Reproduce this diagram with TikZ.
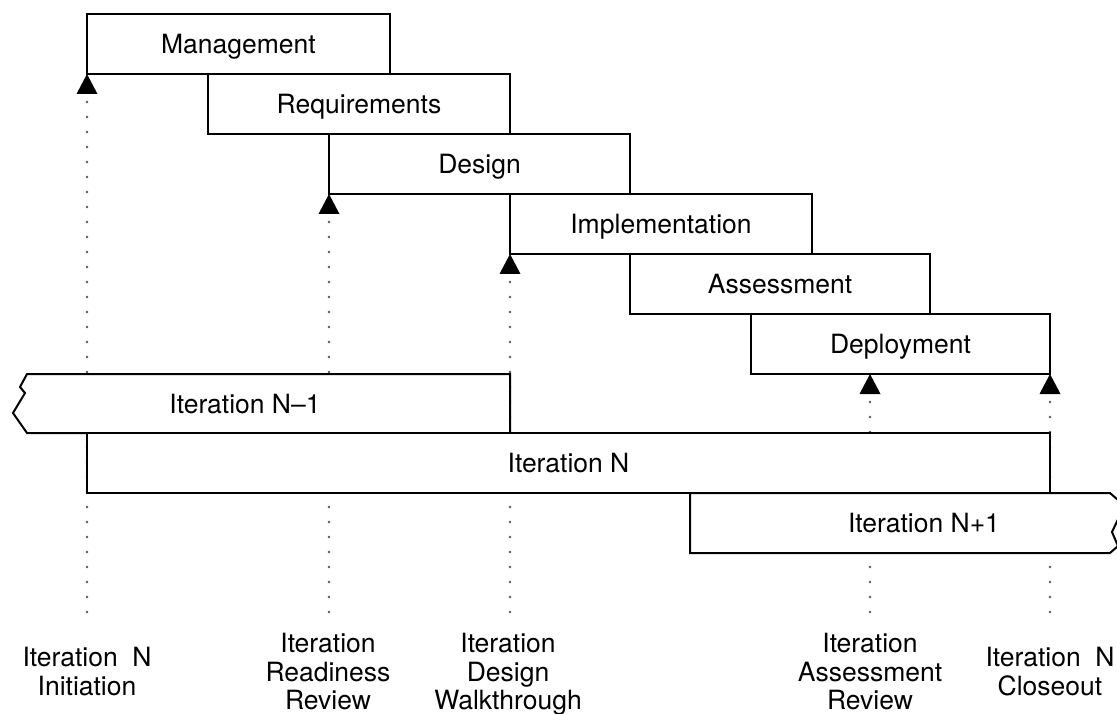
\documentclass[tikz,border=0pt]{standalone}
\usepackage{fontspec}
\setmainfont{TeX Gyre Heros}
\usetikzlibrary{arrows.meta,backgrounds,calc}
\newcommand{\lblfont}{\fontsize{26.5}{28.5}\selectfont}
\begin{document}
\begin{tikzpicture}[x=1pt,y=-1pt,
  phase/.style={draw, line width=2pt, fill=white, anchor=north west, inner sep=0pt, outer sep=0pt,
    minimum height=60pt, text height=19pt, text depth=0pt, font=\lblfont},
  itertext/.style={inner sep=0pt, text height=19pt, text depth=0pt, font=\lblfont},
  iterline/.style={draw, line width=2pt, fill=white, line join=miter},
  mslabel/.style={anchor=north, align=center, inner sep=0pt, font=\lblfont},
  milestone/.style={draw=black!65, line width=2.8pt, line cap=round, dash pattern=on 0pt off 15pt,
    -{Triangle[width=21pt,length=20pt,line width=0pt,color=black]}},
]
\useasboundingbox (0,0) rectangle (1117,714);

% phase boxes
\node[phase, minimum width=303pt] (mgmt) at (87,14)  {Management};
\node[phase, minimum width=302pt] (req)  at (208,74) {Requirements};
\node[phase, minimum width=301pt] (des)  at (329,134) {Design};
\node[phase, minimum width=302pt] (impl) at (510,194) {Implementation};
\node[phase, minimum width=300pt] (asm)  at (630,254) {Assessment};
\node[phase, minimum width=299pt] (dep)  at (751,314) {Deployment};

% iteration bars
\path[iterline] (510,374) -- (27,374) -- (20,387) -- (25,393) -- (13,413) -- (27,433) -- (510,433) -- cycle;
\node[itertext] (itm1) at (245,404) {Iteration N--1};
\node[phase, minimum width=963pt] (itn) at (87,433) {Iteration N};
\path[iterline] (690,493) -- (1110,493) -- (1118,500) -- (1120,515) -- (1112,532) -- (1118,546) -- (1110,553) -- (690,553) -- cycle;
\node[itertext] (itp1) at (924,523) {Iteration N+1};

% milestone labels
\node[mslabel] (l1) at (87,647)  {Iteration\hspace{0.55em}N\\Initiation};
\node[mslabel] (l2) at (328,633) {Iteration\\Readiness\\Review};
\node[mslabel] (l3) at (508,633) {Iteration\\Design\\Walkthrough};
\node[mslabel] (l4) at (870,633) {Iteration\\Assessment\\Review};
\node[mslabel] (l5) at (1050,647) {Iteration\hspace{0.55em}N\\Closeout};

\coordinate (e1) at (87,612);
\coordinate (e2) at (329,612);
\coordinate (e3) at (510,612);
\coordinate (e4) at (870,612);
\coordinate (e5) at (1050,612);
\coordinate (t4) at ($(dep.south west)!0.398!(dep.south east)$);

\begin{scope}[on background layer]
\draw[milestone] (e1) -- (mgmt.south west);
\draw[milestone] (e2) -- (des.south west);
\draw[milestone] (e3) -- (impl.south west);
\draw[milestone] (e4) -- (t4);
\draw[milestone] (e5) -- (dep.south east);
\end{scope}
\end{tikzpicture}
\end{document}
